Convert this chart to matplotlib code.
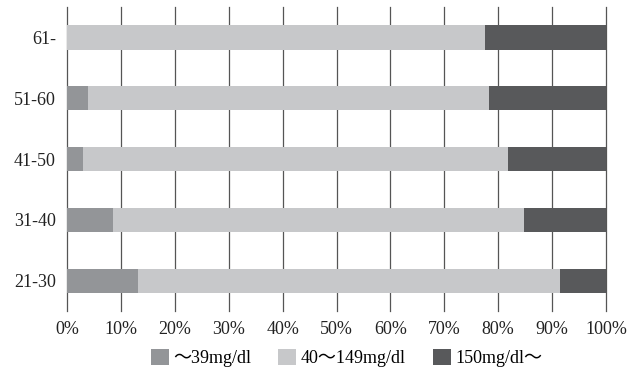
import matplotlib
matplotlib.use("Agg")
import matplotlib.pyplot as plt
import numpy as np

plt.rcParams['font.family'] = ['Liberation Serif', 'Noto Sans CJK JP']

# age groups, bottom to top
ages = ["21-30", "31-40", "41-50", "51-60", "61-"]
# share of each cholesterol band (%)
low = [13.1, 8.6, 2.9, 3.8, 0.0]
mid = [78.4, 76.2, 78.9, 74.5, 77.6]
high = [8.5, 15.2, 18.2, 21.7, 22.4]

labels = ["〜39mg/dl", "40〜149mg/dl", "150mg/dl〜"]
colors = ["#939598", "#c7c8ca", "#58595b"]
xticks = np.arange(0, 101, 10)

fig = plt.figure(figsize=(6.42, 3.70), dpi=100)
ax = fig.add_axes([0.1044, 0.159, 0.8396, 0.822])

y = np.arange(len(ages))
left = np.zeros(len(ages))
for vals, lab, c in zip([low, mid, high], labels, colors):
    ax.barh(y, vals, left=left, height=0.4, color=c, label=lab, zorder=3)
    left = left + np.array(vals)

for xv in xticks:
    ax.axvline(xv, color="#555555", lw=0.9, zorder=1, clip_on=False)

ax.set_xlim(0, 100)
ax.set_ylim(-0.5, 4.5)
ax.set_xticks(xticks)
ax.set_xticklabels([f"{v}%" for v in xticks])
ax.set_yticks(y)
ax.set_yticklabels(ages)
ax.tick_params(length=0, labelsize=13, colors="#222222")
ax.tick_params(axis="x", pad=7)
ax.tick_params(axis="y", pad=8)
for s in ax.spines.values():
    s.set_visible(False)

fig.legend(loc="center", bbox_to_anchor=(0.54, 0.032), ncol=3, frameon=False,
           fontsize=13, handlelength=1.0, handleheight=1.0, handletextpad=0.25,
           columnspacing=1.5, borderaxespad=0)

fig.savefig("out.png", dpi=100)
